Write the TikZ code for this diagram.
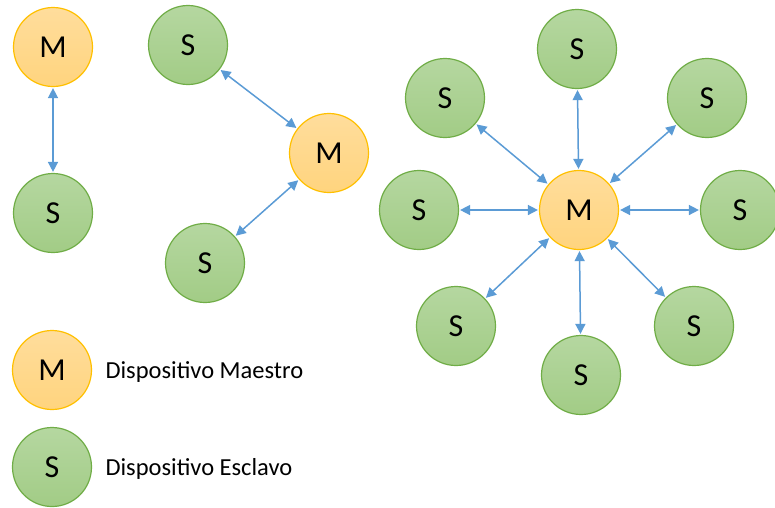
\documentclass[tikz,border=0pt]{standalone}
\usepackage{fontspec}
\setmainfont{Carlito}
\usetikzlibrary{arrows.meta}
\definecolor{mtop}{HTML}{FFDD9C}
\definecolor{mbot}{HTML}{FFD47E}
\definecolor{mline}{HTML}{FFC000}
\definecolor{stop}{HTML}{B5D7A0}
\definecolor{sbot}{HTML}{A2CC86}
\definecolor{sline}{HTML}{70AD47}
\definecolor{linkblue}{HTML}{5B9BD5}
\tikzset{
	master/.style={circle, draw=mline, line width=1.2pt, top color=mtop, bottom color=mbot, minimum size=79pt, inner sep=0pt, font=\fontsize{32}{34}\selectfont},
	slave/.style={circle, draw=sline, line width=1.2pt, top color=stop, bottom color=sbot, minimum size=79pt, inner sep=0pt, font=\fontsize{32}{34}\selectfont},
	link/.style={linkblue, line width=1.5pt, shorten <=1pt, shorten >=1pt, {Triangle[length=10pt,width=10pt]}-{Triangle[length=10pt,width=10pt]}},
	legendtext/.style={anchor=west, font=\fontsize{24.5}{26}\selectfont}
}
\begin{document}
\begin{tikzpicture}[x=1pt, y=-1pt]
		\useasboundingbox (0, 0) rectangle (775, 507);
		%%one master, one slave
			\node[master] (m1) at (53, 47){M};
			\node[slave] (s1) at (53, 213){S};
			\draw[link](m1) to (s1);
		
		%%one master, two slaves
			\node[slave] (s2a) at (188, 45){S};
			\node[master] (m2) at (329, 153){M};
			\node[slave] (s2b) at (205, 263){S};
			\draw[link](s2a) to (m2);
			\draw[link](m2) to (s2b);
			
		%%one master, eight slaves
			\node[master] (m3) at (579, 210){M};
			\node[slave] (s3n) at (577, 49){S};
			\node[slave] (s3nw) at (445, 98){S};
			\node[slave] (s3ne) at (707, 98){S};
			\node[slave] (s3w) at (419, 210){S};
			\node[slave] (s3e) at (740, 210){S};
			\node[slave] (s3sw) at (456, 326){S};
			\node[slave] (s3se) at (694, 326){S};
			\node[slave] (s3s) at (581, 375){S};
			
			%links%
			\draw[link](m3) to (s3n);
			\draw[link](m3) to (s3nw);
			\draw[link](m3) to (s3ne);
			\draw[link](m3) to (s3w);
			\draw[link](m3) to (s3e);
			\draw[link](m3) to (s3sw);
			\draw[link](m3) to (s3se);
			\draw[link](m3) to (s3s);
			
		%%legend
			\node[master] (lm) at (52, 370){M};
			\node[legendtext] (lmtext) at (102, 372){Dispositivo Maestro};
			\node[slave] (ls) at (52, 467){S};
			\node[legendtext] (lstext) at (102, 469){Dispositivo Esclavo};
		\end{tikzpicture}
\end{document}
